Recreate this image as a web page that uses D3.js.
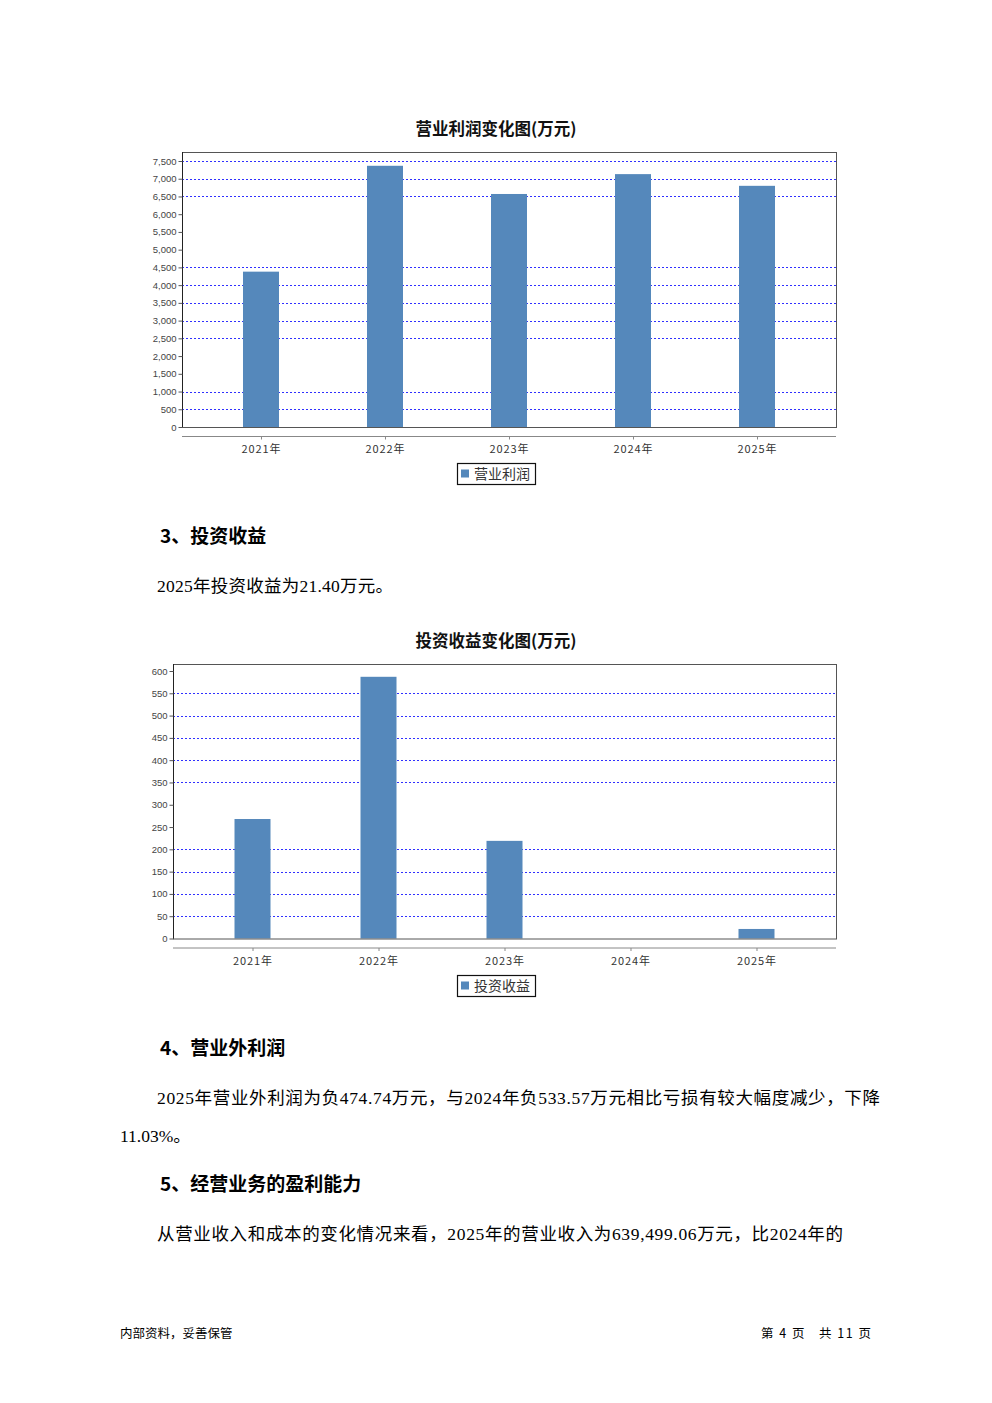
<!DOCTYPE html>
<html><head><meta charset="utf-8">
<script src="https://cdn.jsdelivr.net/npm/d3@7"></script>
<style>
html,body{margin:0;padding:0;background:#fff;}
svg{display:block;}
</style></head>
<body>
<script>
// ---- data ----
const years = ["2021年","2022年","2023年","2024年","2025年"];
const profitValues = [4380, 7365, 6570, 7130, 6800];
const investValues = [268, 587, 219, 0, 21.40];
const profitTicks = [0,500,1000,1500,2000,2500,3000,3500,4000,4500,5000,5500,6000,6500,7000,7500];
const profitGrid = [500,1000,2500,3000,3500,4000,4500,6500,7000,7500];
const investTicks = [0,50,100,150,200,250,300,350,400,450,500,550,600];
const investGrid = [50,100,150,200,350,400,450,500,550];

const W = 992, H = 1403;
const svg = d3.select("body").append("svg").attr("width", W).attr("height", H);
svg.append("rect").attr("width", W).attr("height", H).attr("fill", "#fff");

const CJK = "'Noto Sans CJK SC', 'Noto Sans', sans-serif";
const SERIF = "'Liberation Serif', 'Noto Sans CJK SC', serif";
const BAR = "#5588bb";

function chart(o) {
  const g = svg.append("g");
  const x = d3.scalePoint().domain(o.cats).range([o.x0, o.x1]).padding(o.pad);
  const y = d3.scaleLinear().domain([0, o.ymax]).range([o.y0, o.yTop]);
  // title
  g.append("text").attr("x", 496).attr("y", o.titleY).attr("text-anchor", "middle")
    .attr("font-family", CJK).attr("font-weight", "bold").attr("font-size", 16.5)
    .attr("fill", "#111").text(o.title);
  // gridlines
  g.append("g").attr("shape-rendering", "crispEdges").selectAll("line").data(o.grid).join("line")
    .attr("x1", o.x0).attr("x2", o.x1)
    .attr("y1", d => Math.round(y(d)) + 0.5).attr("y2", d => Math.round(y(d)) + 0.5)
    .attr("stroke", "#3030ff").attr("stroke-width", 1).attr("stroke-dasharray", "2,2");
  // bars
  const bw = 36;
  g.append("g").selectAll("rect").data(o.values).join("rect")
    .attr("x", (d, i) => x(o.cats[i]) - bw / 2)
    .attr("y", d => y(d))
    .attr("width", bw)
    .attr("height", d => o.y0 - y(d))
    .attr("fill", BAR);
  // frame
  g.append("rect").attr("x", o.x0 + 0.5).attr("y", o.yFrame + 0.5)
    .attr("width", o.x1 - o.x0).attr("height", o.y0 - o.yFrame)
    .attr("fill", "none").attr("stroke", "#555").attr("stroke-width", 1);
  // y axis
  const ya = d3.axisLeft(y).tickValues(o.ticks).tickFormat(d3.format(",")).tickSize(4).tickPadding(2);
  const yg = g.append("g").attr("transform", `translate(${o.x0 + 0.5},0)`).call(ya);
  yg.select(".domain").attr("stroke", "#222").attr("d", `M0,${o.yFrame}V${o.y0}`);
  yg.selectAll(".tick line").attr("stroke", "#555");
  yg.selectAll("text").attr("font-family", "'Liberation Sans', Arial, sans-serif")
    .attr("font-size", 9.5).attr("fill", "#444");
  // x axis
  const xa = d3.axisBottom(x).tickSize(3).tickPadding(6);
  const xg = g.append("g").attr("transform", `translate(0,${o.xAxisY + 0.5})`).call(xa);
  xg.select(".domain").attr("stroke", "#888").attr("d", `M${o.x0},0H${o.x1}`);
  xg.selectAll(".tick line").attr("stroke", "#888");
  xg.selectAll("text").attr("font-family", CJK).attr("font-size", 11)
    .attr("letter-spacing", 0.9).attr("fill", "#333");
  // legend
  const lg = g.append("g").attr("transform", `translate(457,${o.legendY})`);
  lg.append("rect").attr("x", 0.5).attr("y", 0.5).attr("width", 78).attr("height", 21)
    .attr("fill", "#fff").attr("stroke", "#111").attr("stroke-width", 1.2);
  lg.append("rect").attr("x", 4).attr("y", 6.5).attr("width", 8).attr("height", 8).attr("fill", BAR);
  lg.append("text").attr("x", 17).attr("y", 16).attr("font-family", CJK).attr("font-size", 14)
    .attr("fill", "#333").text(o.legend);
}

chart({
  cats: years, values: profitValues, ticks: profitTicks, grid: profitGrid, ymax: 7500,
  x0: 182, x1: 836, pad: 0.637, y0: 427, yTop: 161, yFrame: 152, xAxisY: 436,
  title: "营业利润变化图(万元)", titleY: 135, legend: "营业利润", legendY: 463
});
chart({
  cats: years, values: investValues, ticks: investTicks, grid: investGrid, ymax: 600,
  x0: 173, x1: 836, pad: 0.631, y0: 938.5, yTop: 671, yFrame: 664, xAxisY: 947.5,
  title: "投资收益变化图(万元)", titleY: 647, legend: "投资收益", legendY: 975
});

// ---- body text ----
function txt(x, y, s, size, opts = {}) {
  const t = svg.append("text").attr("x", x).attr("y", y).attr("font-size", size)
    .attr("font-family", opts.family || SERIF).attr("fill", "#000")
    .attr("font-weight", opts.bold ? "bold" : "normal")
    .style("white-space", "pre").text(s);
  if (opts.len) t.attr("textLength", opts.len).attr("lengthAdjust", "spacing");
  if (opts.anchor) t.attr("text-anchor", opts.anchor);
  return t;
}
txt(160, 543, "3、投资收益", 19, {bold: true, family: CJK});
txt(157, 592, "2025年投资收益为21.40万元。", 17.5, {len: 236});
txt(160, 1055, "4、营业外利润", 19, {bold: true, family: CJK});
txt(157, 1104, "2025年营业外利润为负474.74万元，与2024年负533.57万元相比亏损有较大幅度减少，下降", 17.5, {len: 723});
txt(120, 1142, "11.03%。", 17.5);
txt(160, 1191, "5、经营业务的盈利能力", 19, {bold: true, family: CJK});
txt(157, 1240, "从营业收入和成本的变化情况来看，2025年的营业收入为639,499.06万元，比2024年的", 17.5, {len: 686});
txt(120, 1338, "内部资料，妥善保管", 12.5, {family: CJK});
txt(761, 1338, "第 4 页   共 11 页", 12.5, {family: CJK, len: 110});
</script>
</body></html>
